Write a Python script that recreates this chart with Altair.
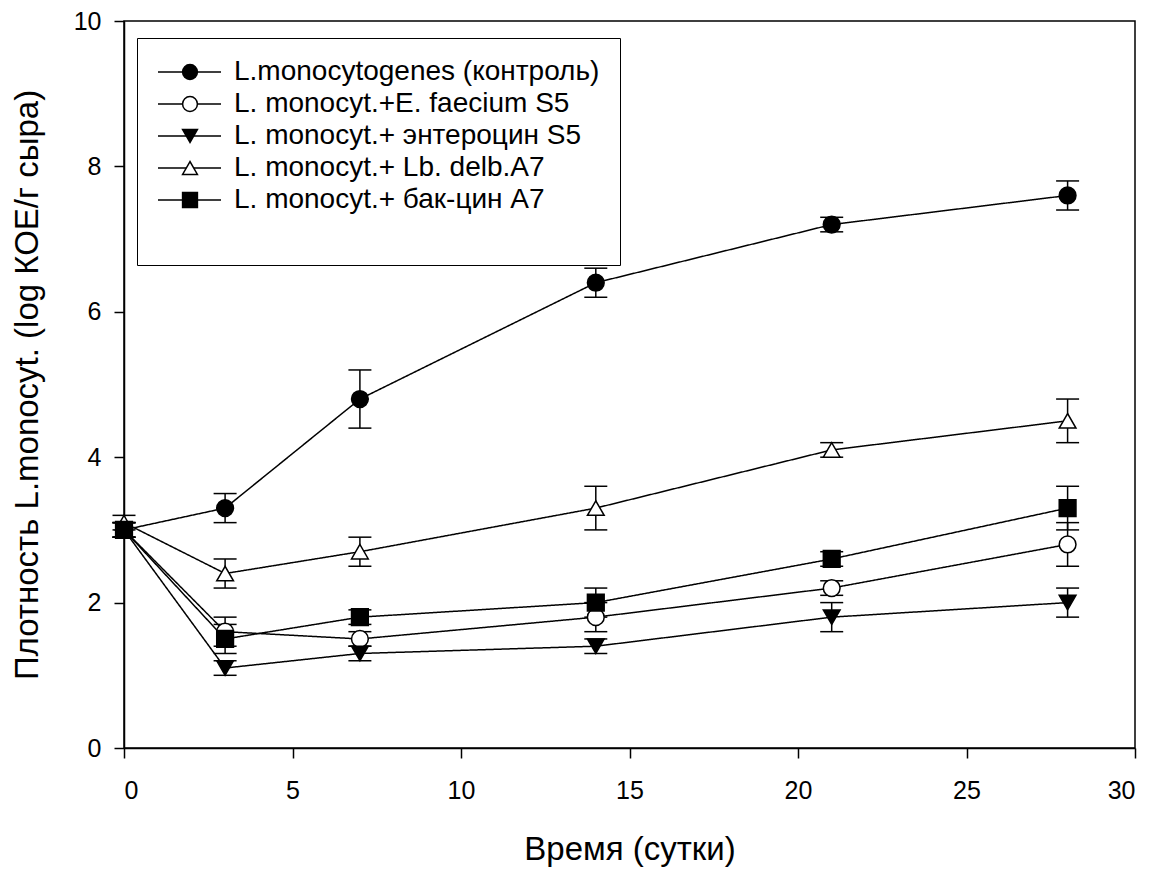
import altair as alt
import pandas as pd

days = [0, 3, 7, 14, 21, 28]
series_names = [
    "L.monocytogenes (контроль)",
    "L. monocyt.+E. faecium S5",
    "L. monocyt.+ энтероцин S5",
    "L. monocyt.+ Lb. delb.A7",
    "L. monocyt.+ бак-цин A7",
]
control = [3.0, 3.3, 4.8, 6.4, 7.2, 7.6]
control_err = [0.1, 0.2, 0.4, 0.2, 0.1, 0.2]
faecium = [3.0, 1.6, 1.5, 1.8, 2.2, 2.8]
faecium_err = [0.1, 0.2, 0.1, 0.2, 0.1, 0.3]
enterocin = [3.0, 1.1, 1.3, 1.4, 1.8, 2.0]
enterocin_err = [0.1, 0.1, 0.1, 0.1, 0.2, 0.2]
delb = [3.1, 2.4, 2.7, 3.3, 4.1, 4.5]
delb_err = [0.1, 0.2, 0.2, 0.3, 0.1, 0.3]
bac = [3.0, 1.5, 1.8, 2.0, 2.6, 3.3]
bac_err = [0.1, 0.2, 0.1, 0.2, 0.1, 0.3]

shapes = ["circle", "circle", "triangle-down", "triangle-up", "square"]
fills = ["black", "white", "black", "white", "black"]
line_keys = [str(i) for i in range(len(series_names))]

rows = []
for i, (name, vals, errs) in enumerate(zip(
    series_names,
    [control, faecium, enterocin, delb, bac],
    [control_err, faecium_err, enterocin_err, delb_err, bac_err],
)):
    for d, v, e in zip(days, vals, errs):
        rows.append({"day": d, "value": v, "lo": v - e, "hi": v + e,
                     "series": name, "series_l": line_keys[i]})
df = pd.DataFrame(rows)

FONT = "Liberation Sans"
LFS = 28
label_expr = "[" + ",".join("'%s'" % n for n in series_names) + "][toNumber(datum.value)]"

x = alt.X("day:Q", scale=alt.Scale(domain=[0, 30], nice=False),
          axis=alt.Axis(title="Время (сутки)", values=[0, 5, 10, 15, 20, 25, 30],
                        format="d"))
y = alt.Y("value:Q", scale=alt.Scale(domain=[0, 10], nice=False),
          axis=alt.Axis(title="Плотность L.monocyt. (log КОЕ/г сыра)",
                        values=[0, 2, 4, 6, 8, 10], format="d"))

base = alt.Chart(df)

lines = base.mark_line(color="black", strokeWidth=1.5).encode(
    x=x, y=y,
    strokeDash=alt.StrokeDash(
        "series_l:N",
        scale=alt.Scale(domain=line_keys, range=[[1, 0]] * 5),
        legend=alt.Legend(
            title="\u00a0", titleOrient="bottom", titleFontSize=20, titlePadding=11,
            orient="none", legendX=13, legendY=17,
            symbolType="stroke", symbolSize=3969, symbolStrokeWidth=1.5,
            symbolStrokeColor="black", clipHeight=LFS,
            labelFont=FONT, labelFontSize=LFS, labelColor="black",
            labelExpr=label_expr, labelLimit=700,
            labelOffset=12, rowPadding=4, padding=20,
            strokeColor="black",
        ),
    ),
)

stems = base.mark_rule(color="black", strokeWidth=1.5).encode(
    x="day:Q", y="lo:Q", y2="hi:Q")
caps_lo = base.mark_tick(color="black", orient="horizontal", size=23,
                         thickness=1.5, opacity=1).encode(x="day:Q", y="lo:Q")
caps_hi = base.mark_tick(color="black", orient="horizontal", size=23,
                         thickness=1.5, opacity=1).encode(x="day:Q", y="hi:Q")

points = base.mark_point(filled=True, strokeWidth=1.5,
                         opacity=1, size=280).encode(
    x="day:Q", y="value:Q",
    shape=alt.Shape("series:N", scale=alt.Scale(domain=series_names, range=shapes),
                    legend=alt.Legend(
                        title=None, orient="none", legendX=32, legendY=17,
                        symbolSize=220, symbolStrokeWidth=1.5,
                        symbolStrokeColor="black", clipHeight=LFS,
                        labelFont=FONT, labelFontSize=LFS, labelExpr="''",
                        labelOffset=12, rowPadding=4, padding=20)),
    fill=alt.Fill("series:N", scale=alt.Scale(domain=series_names, range=fills)),
    stroke=alt.Stroke("series:N",
                      scale=alt.Scale(domain=series_names, range=["black"] * 5)),
)

chart = alt.layer(lines, stems, caps_lo, caps_hi, points).properties(
    width=1011, height=727,
    autosize=alt.AutoSizeParams(type="none"),
    padding={"left": 116, "top": 13, "right": 13, "bottom": 124},
).configure_view(
    stroke="black", strokeWidth=1.5,
).configure_axis(
    labelFont=FONT, labelFontSize=25, labelColor="black",
    titleFont=FONT, titleColor="black", titleFontWeight="normal",
    domainColor="black", domainWidth=1.5, tickColor="black", tickWidth=1.5,
    tickSize=10, grid=False,
).configure_axisX(
    labelPadding=20, titlePadding=30, titleFontSize=33,
).configure_axisY(
    labelPadding=13, titlePadding=29, titleFontSize=33,
)

chart.save("out.html", embed_options={"renderer": "svg", "actions": False})
